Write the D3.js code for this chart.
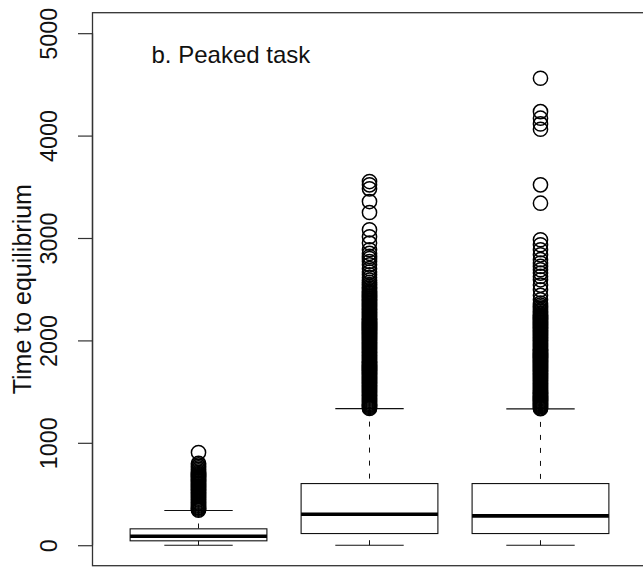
<!DOCTYPE html>
<html><head><meta charset="utf-8">
<script src="https://cdn.jsdelivr.net/npm/d3@7"></script>
<style>body{margin:0;background:#fff}svg{display:block}</style>
</head><body>
<svg id="c" width="643" height="567"></svg>
<script>
// ---- data ----
const groups = [1, 2, 3];
const mins    = [0, 0, 0];
const q1s     = [43, 114, 114];
const medians = [88, 302, 287];
const q3s     = [160, 602, 602];
const upperWhiskers = [339, 1334, 1331];
const outliers1 = [342, 351, 361, 370, 381, 390, 400, 411, 420, 430, 441, 450, 460, 471, 480, 490, 501, 510, 520, 531, 540, 550, 561, 570, 580, 591, 600, 610, 621, 630, 640, 651, 660, 670, 681, 690, 700, 712, 727, 741, 756, 771, 786, 800, 905];
const outliers2 = [1336, 1345, 1355, 1366, 1375, 1385, 1396, 1405, 1415, 1426, 1435, 1445, 1456, 1465, 1475, 1486, 1495, 1505, 1516, 1525, 1535, 1546, 1555, 1565, 1576, 1585, 1595, 1606, 1615, 1625, 1636, 1645, 1655, 1666, 1675, 1685, 1696, 1705, 1715, 1726, 1735, 1745, 1756, 1765, 1775, 1786, 1795, 1805, 1816, 1825, 1835, 1846, 1855, 1865, 1876, 1885, 1895, 1906, 1915, 1925, 1936, 1945, 1955, 1966, 1975, 1985, 1996, 2005, 2015, 2026, 2035, 2045, 2056, 2065, 2075, 2086, 2095, 2105, 2116, 2125, 2135, 2146, 2155, 2165, 2176, 2185, 2195, 2206, 2215, 2225, 2236, 2245, 2255, 2266, 2275, 2285, 2296, 2305, 2315, 2326, 2335, 2345, 2356, 2365, 2375, 2386, 2395, 2405, 2416, 2425, 2435, 2446, 2457, 2470, 2483, 2497, 2512, 2527, 2545, 2566, 2590, 2615, 2641, 2668, 2700, 2738, 2770, 2800, 2820, 2850, 2885, 2950, 3012, 3080, 3249, 3356, 3480, 3519, 3551];
const outliers3 = [1333, 1342, 1352, 1363, 1372, 1382, 1393, 1402, 1412, 1423, 1432, 1442, 1453, 1462, 1472, 1483, 1492, 1502, 1513, 1522, 1532, 1543, 1552, 1562, 1573, 1582, 1592, 1603, 1612, 1622, 1633, 1642, 1652, 1663, 1672, 1682, 1693, 1702, 1712, 1723, 1732, 1742, 1753, 1762, 1772, 1783, 1792, 1802, 1813, 1822, 1832, 1843, 1852, 1862, 1873, 1882, 1892, 1903, 1912, 1922, 1933, 1942, 1952, 1963, 1972, 1982, 1993, 2002, 2012, 2023, 2032, 2042, 2053, 2062, 2072, 2083, 2092, 2102, 2113, 2122, 2132, 2143, 2152, 2162, 2173, 2182, 2192, 2203, 2212, 2222, 2233, 2244, 2257, 2270, 2283, 2297, 2312, 2328, 2345, 2364, 2397, 2440, 2494, 2540, 2592, 2625, 2657, 2690, 2722, 2755, 2788, 2836, 2885, 2934, 2983, 3340, 3519, 4062, 4114, 4170, 4234, 4560];
const outliers = [outliers1, outliers2, outliers3];
const yTicks = [0, 1000, 2000, 3000, 4000, 5000];
const yLabel = "Time to equilibrium";
const panelTitle = "b. Peaked task";

// ---- layout ----
const svg = d3.select("#c");
const L = 92.5, R = 646.5, T = 12.7, B = 565.7;
const x = d3.scaleLinear().domain([0.38, 3.62]).range([L, R]);
const y = d3.scaleLinear().domain([-200, 5200]).range([B, T]);
const unit = x(1) - x(0);
const halfBox = 0.4 * unit, halfCap = 0.2 * unit;
const ink = "#111";

groups.forEach((g, i) => {
  const cx = x(g);
  svg.append("line").attr("x1", cx).attr("x2", cx)
    .attr("y1", y(upperWhiskers[i])).attr("y2", y(q3s[i]))
    .attr("stroke", ink).attr("stroke-width", 1).attr("stroke-dasharray", "5,8");
  svg.append("line").attr("x1", cx).attr("x2", cx)
    .attr("y1", y(mins[i])).attr("y2", y(q1s[i]))
    .attr("stroke", ink).attr("stroke-width", 1).attr("stroke-dasharray", "5,8");
  [mins[i], upperWhiskers[i]].forEach(v => {
    svg.append("line").attr("x1", cx - halfCap).attr("x2", cx + halfCap)
      .attr("y1", y(v)).attr("y2", y(v)).attr("stroke", ink).attr("stroke-width", 1.1);
  });
  svg.append("rect").attr("x", cx - halfBox).attr("width", 2 * halfBox)
    .attr("y", y(q3s[i])).attr("height", y(q1s[i]) - y(q3s[i]))
    .attr("fill", "none").attr("stroke", ink).attr("stroke-width", 1.1);
  svg.append("line").attr("x1", cx - halfBox).attr("x2", cx + halfBox)
    .attr("y1", y(medians[i])).attr("y2", y(medians[i]))
    .attr("stroke", "#000").attr("stroke-width", 3.6);
  svg.selectAll(null).data(outliers[i]).enter().append("circle")
    .attr("cx", cx).attr("cy", d => y(d)).attr("r", 7.1)
    .attr("fill", "none").attr("stroke", "#000").attr("stroke-width", 1.5);
});

// frame
svg.append("rect").attr("x", L).attr("y", T).attr("width", R - L).attr("height", B - T)
  .attr("fill", "none").attr("stroke", "#333").attr("stroke-width", 1.3);

// y axis
const ax = d3.axisLeft(y).tickValues(yTicks).tickSize(14.5).tickPadding(0).tickFormat(d3.format("d"));
const g = svg.append("g").attr("transform", `translate(${L},0)`).call(ax);
g.select(".domain").attr("stroke", "#333").attr("stroke-width", 1.3)
  .attr("d", `M0,${y(0)}V${y(5000)}`);
g.selectAll(".tick line").attr("stroke", "#333").attr("stroke-width", 1.2);
g.selectAll(".tick text").attr("x", 0).attr("dy", null)
  .attr("transform", "translate(-35.5,0) rotate(-90)")
  .attr("text-anchor", "middle")
  .style("font-family", "Liberation Sans, Arial, sans-serif").style("font-size", "23.4px").attr("fill", "#111");

svg.append("text").attr("transform", `translate(31,${(T + B) / 2}) rotate(-90)`)
  .attr("text-anchor", "middle").style("font-family", "Liberation Sans, Arial, sans-serif")
  .style("font-size", "25px").attr("fill", "#111").text(yLabel);

svg.append("text").attr("x", 151.5).attr("y", 63.3)
  .style("font-family", "Liberation Sans, Arial, sans-serif").style("font-size", "24px")
  .attr("fill", "#111").text(panelTitle);
</script>
</body></html>
